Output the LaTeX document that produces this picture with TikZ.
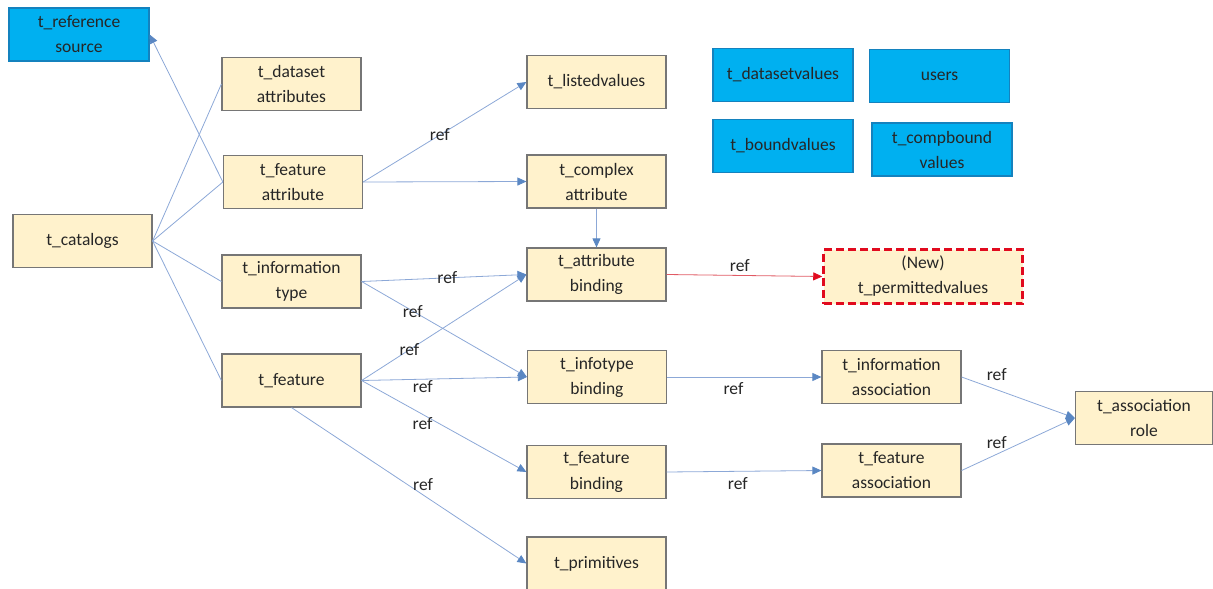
\documentclass[tikz,border=0pt]{standalone}
\usepackage{fontspec}
\setmainfont{Carlito}
\usetikzlibrary{arrows.meta}

\begin{document}
\begin{tikzpicture}[x=1pt,y=1pt]
	\definecolor{tableFill}{RGB}{255, 242, 204}
	\definecolor{tableBorder}{RGB}{118, 118, 118}
	\definecolor{extraFill}{RGB}{0, 176, 240}
	\definecolor{extraBorder}{RGB}{20, 130, 190}
	\definecolor{newBorder}{RGB}{225, 10, 30}
	\definecolor{newLine}{RGB}{225, 90, 100}
	\definecolor{linkColour}{RGB}{140, 168, 215}
	\definecolor{headColour}{RGB}{90, 135, 195}
	\definecolor{textColour}{RGB}{38, 38, 38}
	\tikzstyle{table}=[rectangle, draw=tableBorder, fill=tableFill, line width=1.2pt, minimum width=139pt, minimum height=53pt, inner sep=0pt, align=center, text=textColour, font=\fontsize{17.5}{25}\selectfont]
	\tikzstyle{extra}=[table, draw=extraBorder, fill=extraFill, minimum width=140pt]
	\tikzstyle{newtable}=[table, draw=newBorder, dash pattern=on 8pt off 4pt, line width=2.5pt, minimum width=199pt, minimum height=54pt]
	\tikzstyle{link}=[color=linkColour, line width=0.8pt]
	\tikzstyle{reflink}=[link, -{Triangle[length=9pt, width=8pt, color=headColour]}]
	\tikzstyle{reflabel}=[font=\fontsize{17.5}{20}\selectfont, text=textColour, inner sep=1pt]

	\useasboundingbox (0,0) rectangle (1213,-589);

	\node [extra, xshift=79pt, yshift=-34.5pt] (refsource) {t\_reference\\source};
	\node [table, xshift=82.5pt, yshift=-241pt] (catalogs) {t\_catalogs};
	\node [table, xshift=291.5pt, yshift=-84pt] (dsattr) {t\_dataset\\attributes};
	\node [table, xshift=293pt, yshift=-182pt] (fattr) {t\_feature\\attribute};
	\node [table, xshift=291.5pt, yshift=-281.5pt] (infotype) {t\_information\\type};
	\node [table, xshift=291.5pt, yshift=-380.5pt] (feature) {t\_feature};
	\node [table, xshift=596.5pt, yshift=-82pt] (listed) {t\_listedvalues};
	\node [table, xshift=596.5pt, yshift=-181.5pt] (complex) {t\_complex\\attribute};
	\node [table, xshift=596.5pt, yshift=-274.5pt] (attrbind) {t\_attribute\\binding};
	\node [table, xshift=597pt, yshift=-377pt] (infobind) {t\_infotype\\binding};
	\node [table, xshift=596.5pt, yshift=-472pt] (fbind) {t\_feature\\binding};
	\node [table, xshift=596.5pt, yshift=-563.5pt] (primitives) {t\_primitives};
	\node [extra, xshift=783pt, yshift=-75pt] (dsvalues) {t\_datasetvalues};
	\node [extra, xshift=939.5pt, yshift=-76pt] (users) {users};
	\node [extra, xshift=783pt, yshift=-146pt] (boundvalues) {t\_boundvalues};
	\node [extra, xshift=942pt, yshift=-149.5pt] (compbound) {t\_compbound\\values};
	\node [newtable, xshift=923pt, yshift=-276.5pt] (permitted) {(New)\\t\_permittedvalues};
	\node [table, xshift=891.5pt, yshift=-377pt] (infoassoc) {t\_information\\association};
	\node [table, xshift=891.5pt, yshift=-470.5pt] (fassoc) {t\_feature\\association};
	\node [table, xshift=1144pt, yshift=-418pt, minimum width=137pt] (role) {t\_association\\role};

	\path[link]
	(catalogs.east) edge (dsattr.west)
	(catalogs.east) edge (fattr.west)
	(catalogs.east) edge (infotype.west)
	(catalogs.east) edge (feature.west);

	\path[reflink]
	(fattr.west) edge (refsource.east)
	(fattr.east) edge node[reflabel, pos=0.47] {ref} (listed.west)
	(fattr.east) edge (complex.west)
	(complex.south) edge (attrbind.north)
	(infotype.east) edge node[reflabel, pos=0.52] {ref} (attrbind.west)
	(infotype.east) edge node[reflabel, pos=0.31] {ref} (infobind.west)
	(feature.east) edge node[reflabel, pos=0.29] {ref} (attrbind.west)
	(feature.east) edge node[reflabel, pos=0.37, below=0pt] {ref} (infobind.west)
	(feature.east) edge node[reflabel, pos=0.37, below=2pt] {ref} (fbind.west)
	(feature.south) edge node[reflabel, pos=0.56, above=3pt] {ref} (primitives.west)
	(infobind.east) edge node[reflabel, pos=0.43, below=4pt] {ref} (infoassoc.west)
	(fbind.east) edge node[reflabel, pos=0.46, below=5pt] {ref} (fassoc.west)
	(infoassoc.east) edge node[reflabel, pos=0.31, above=8pt] {ref} (role.west)
	(fassoc.east) edge node[reflabel, pos=0.31, above=4pt] {ref} (role.west);

	\path[link, color=newLine, -{Triangle[length=9pt, width=8pt, color=newBorder]}]
	(attrbind.east) edge node[reflabel, pos=0.47, above=2pt] {ref} (permitted.west);
\end{tikzpicture}
\end{document}
